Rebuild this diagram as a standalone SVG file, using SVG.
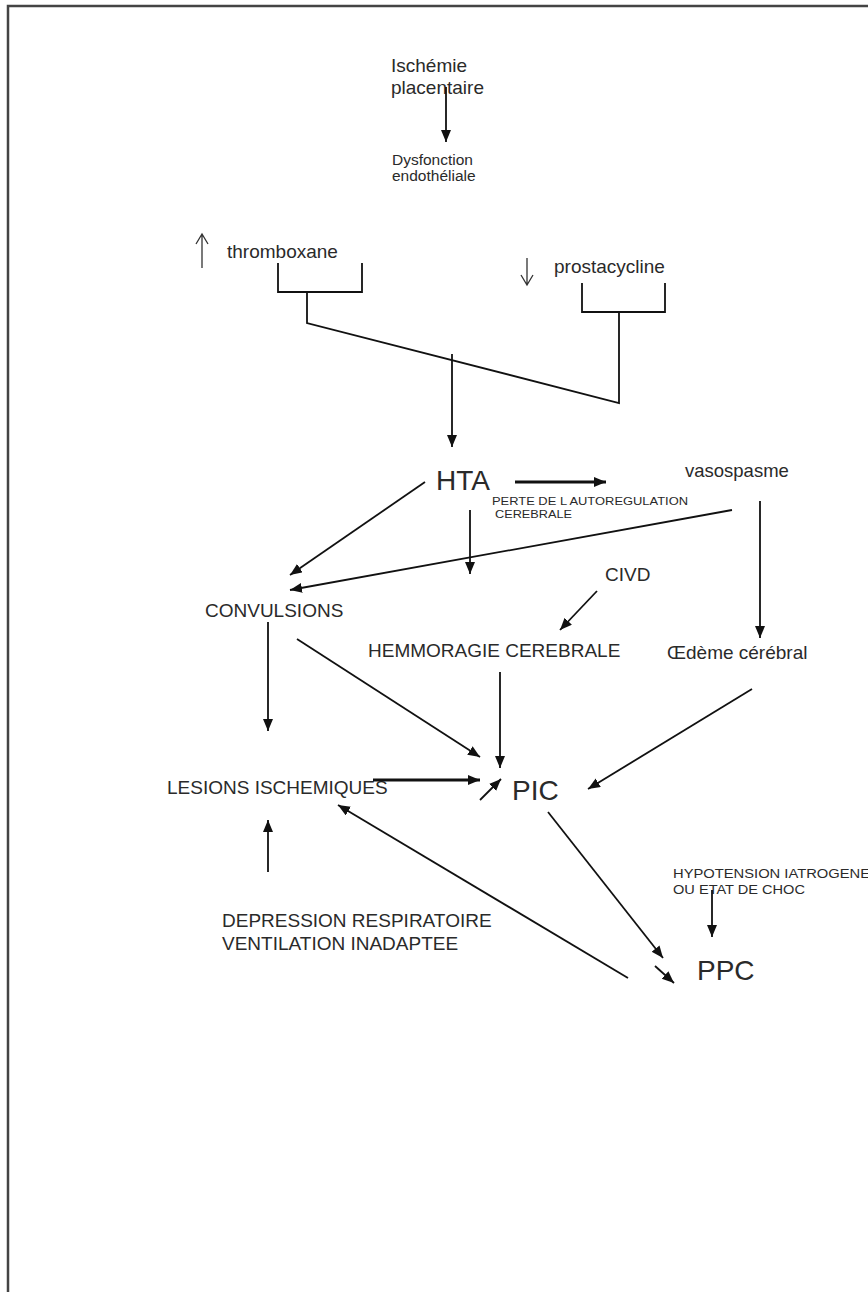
<svg xmlns="http://www.w3.org/2000/svg" width="868" height="1292" viewBox="0 0 868 1292">
<defs>
<marker id="ah" markerUnits="userSpaceOnUse" markerWidth="14" markerHeight="12" refX="12" refY="5" orient="auto">
<path d="M0,0 L12,5 L0,10 Z" fill="#111"/>
</marker>
</defs>
<style>
text{font-family:"Liberation Sans",Arial,sans-serif;fill:#2a2a2a}
.c{stroke:#111;stroke-width:1.8;fill:none}
.a{stroke:#111;stroke-width:1.8;fill:none;marker-end:url(#ah)}
.t{stroke:#111;stroke-width:3;fill:none;marker-end:url(#ah)}
.thin{stroke:#333;stroke-width:1.3;fill:none}
.n19{font-size:19px}
.n28{font-size:28px}
</style>
<rect width="868" height="1292" fill="#fff"/>
<path d="M8,1292 V6 H868" stroke="#444" stroke-width="2.5" fill="none"/>

<g id="ischemie"><text x="391" y="72" class="n19">Ischémie</text><text x="391" y="94" class="n19">placentaire</text></g>
<g id="dysfonction"><text x="392" y="165" style="font-size:15.5px">Dysfonction</text><text x="392" y="181" style="font-size:15.5px">endothéliale</text></g>
<g id="thromboxane">
<path class="thin" d="M202,268 V235 M196,244 L202,234 L208,244"/>
<text x="227" y="258" class="n19">thromboxane</text></g>
<g id="prostacycline">
<path class="thin" d="M527,258 V284 M521,275 L527,285 L533,275"/>
<text x="554" y="273" class="n19">prostacycline</text></g>
<g id="hta"><text x="436" y="490" class="n28">HTA</text></g>
<g id="perte"><text x="492" y="505" style="font-size:11.5px" textLength="196" lengthAdjust="spacingAndGlyphs">PERTE DE L AUTOREGULATION</text><text x="495" y="518" style="font-size:11.5px" textLength="77" lengthAdjust="spacingAndGlyphs">CEREBRALE</text></g>
<g id="vasospasme"><text x="685" y="477" style="font-size:18.5px">vasospasme</text></g>
<g id="civd"><text x="605" y="581" class="n19">CIVD</text></g>
<g id="convulsions"><text x="205" y="617" class="n19">CONVULSIONS</text></g>
<g id="hemmoragie"><text x="368" y="657" class="n19">HEMMORAGIE CEREBRALE</text></g>
<g id="oedeme"><text x="667" y="659" class="n19">Œdème cérébral</text></g>
<g id="lesions"><text x="167" y="794" class="n19">LESIONS ISCHEMIQUES</text></g>
<g id="pic"><text x="512" y="800" class="n28">PIC</text></g>
<g id="depression"><text x="222" y="927" class="n19">DEPRESSION RESPIRATOIRE</text><text x="222" y="950" class="n19">VENTILATION INADAPTEE</text></g>
<g id="hypotension"><text x="673" y="878" style="font-size:12px" textLength="197" lengthAdjust="spacingAndGlyphs">HYPOTENSION IATROGENE</text><text x="673" y="894" style="font-size:12px" textLength="132" lengthAdjust="spacingAndGlyphs">OU ETAT DE CHOC</text></g>
<g id="ppc"><text x="697" y="980" class="n28">PPC</text></g>

<g id="connectors">
<path class="a" d="M446,87 V142"/>
<path class="c" d="M278,263 V292 H362 V263 M307,292 V323 L619,403 V312 M582,283 V312 H665 V283"/>
<path class="a" d="M452,354 V447"/>
<path class="t" d="M515,482 H606"/>
<path class="a" d="M425,482 L290,575"/>
<path class="a" d="M732,510 L290,590"/>
<path class="a" d="M470,510 V574"/>
<path class="a" d="M760,501 V638"/>
<path class="a" d="M597,591 L560,630"/>
<path class="a" d="M268,622 V731"/>
<path class="a" d="M297,639 L480,757"/>
<path class="a" d="M500,672 V768"/>
<path class="a" d="M752,689 L588,789"/>
<path class="t" d="M373,780 H480"/>
<path class="a" d="M480,800 L501,779"/>
<path class="a" d="M268,872 V820"/>
<path class="a" d="M548,812 L663,958"/>
<path class="a" d="M628,978 L338,805"/>
<path class="a" d="M655,966 L674,983"/>
<path class="a" d="M712,890 V937"/>
</g>
</svg>
